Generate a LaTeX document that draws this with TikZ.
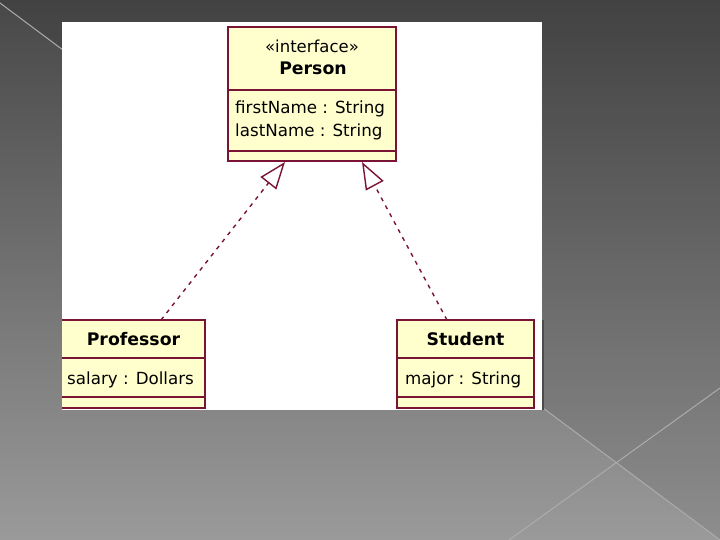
\documentclass[tikz,border=0pt]{standalone}
\usepackage{fontspec}
\setmainfont{DejaVu Sans}
\usepackage{xcolor}
\usepackage{tikz}
\usetikzlibrary{positioning,arrows.meta,calc}
\definecolor{umlline}{RGB}{122,20,52}
\definecolor{umlfill}{RGB}{255,255,206}
\definecolor{bgtop}{RGB}{72,72,72}
\definecolor{bgbot}{RGB}{154,154,154}
\definecolor{bgline}{RGB}{172,172,172}
\tikzset{
classbox/.style={
draw=umlline,
line width=2pt,
fill=umlfill,
outer sep=0pt,
inner sep=0pt,
anchor=north west
},
divider/.style={
draw=umlline,
line width=2pt
},
stereo/.style={
inner sep=0pt,
anchor=base,
font=\fontsize{16.5}{19}\selectfont
},
cname/.style={
inner sep=0pt,
anchor=base,
font=\fontsize{17.3}{20}\selectfont\bfseries
},
attr/.style={
inner sep=0pt,
anchor=base west,
font=\fontsize{16.7}{20}\selectfont
},
realize/.style={
draw=umlline,
line width=1.4pt,
dash pattern=on 4pt off 5pt,
-{Triangle[open,length=27pt,width=20pt]}
}
}

\begin{document}
\begin{tikzpicture}[x=1pt,y=-1pt]
\useasboundingbox (0,0) rectangle (720,540);
% slide background
\shade[top color=bgtop,bottom color=bgbot] (0,0) rectangle (720,540);
\fill[black,opacity=0.08] (0,0) -- (0,3) -- (720,540) -- (720,0) -- cycle;
\draw[bgline,line width=1pt] (0,3) -- (720,540);
\draw[bgline,line width=1pt] (720,388) -- (509,540);
\fill[white] (62,22) rectangle (542,410);
\draw[black!70,line width=1.5pt] (543,320) -- (543,410);

\begin{scope}
\clip (62,22) rectangle (542,410);
% classes
\node[classbox,minimum width=168pt,minimum height=134pt](person) at (228,27){};
\node[classbox,minimum width=145pt,minimum height=88pt](prof) at (60,320){};
\node[classbox,minimum width=137pt,minimum height=88pt](stud) at (397,320){};

\foreach \c/\d in {person/63,person/124,prof/38,prof/77,stud/38,stud/77}
\draw[divider]($(\c.north west)+(0,\d)$)--($(\c.north east)+(0,\d)$);

\node[stereo](pstereo) at ($(person.north)+(0,26)$){«interface»};
\node[cname](pname) at ($(person.north)+(1,48)$){Person};
\node[attr](pfirst) at ($(person.north west)+(7,87)$){firstName : String};
\node[attr](plast) at ($(person.north west)+(7,110)$){lastName : String};

\node[cname](profname) at ($(prof.north)+(1,25)$){Professor};
\node[attr](profattr) at ($(prof.north west)+(7,64)$){salary : Dollars};

\node[cname](studname) at ($(stud.north)+(0,25)$){Student};
\node[attr](studattr) at ($(stud.north west)+(8,64)$){major : String};
\end{scope}

% realizations
\coordinate (personl) at ($(person.south west)+(57,1)$);
\coordinate (personr) at ($(person.south west)+(134,1)$);
\coordinate (profend) at ($(prof.north west)+(101,0)$);
\coordinate (studend) at ($(stud.north west)+(50,0)$);

\foreach \x/\y in {profend/personl,studend/personr}
\draw[realize](\x)--(\y);
\end{tikzpicture}
\end{document}
